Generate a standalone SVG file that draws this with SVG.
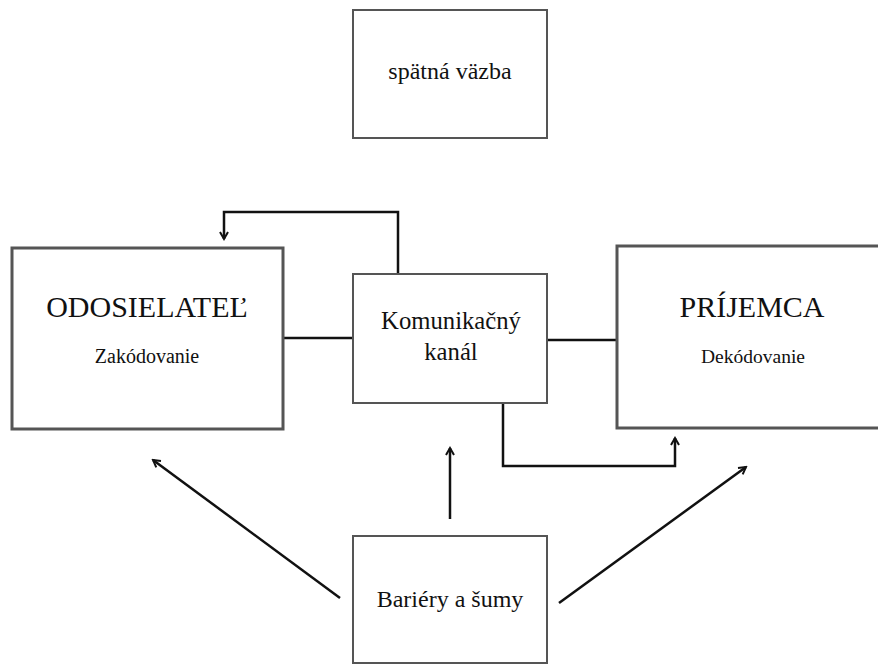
<svg xmlns="http://www.w3.org/2000/svg" width="878" height="664" viewBox="0 0 878 664">
<style>
.box{fill:#fff;stroke:#555;stroke-width:2}
.big{stroke-width:3}
.t{font-family:"Liberation Serif","Times New Roman",serif;fill:#111;text-anchor:middle}
.ln{fill:none;stroke:#111;stroke-width:2.5}
</style>
<defs>
<marker id="ah" viewBox="0 0 10 10" refX="8" refY="5" markerWidth="10" markerHeight="10" markerUnits="userSpaceOnUse" orient="auto">
<path d="M1,1 L8,5 L1,9" fill="none" stroke="#111" stroke-width="2"/>
</marker>
</defs>
<rect width="878" height="664" fill="#fff"/>
<g id="connectors">
<path class="ln" d="M283,338 H353"/>
<path class="ln" d="M547,340 H617"/>
<path class="ln" d="M398,274 V212 H224 V239" marker-end="url(#ah)"/>
<path class="ln" d="M503,403 V466 H675 V438" marker-end="url(#ah)"/>
<path class="ln" d="M450,519 V448" marker-end="url(#ah)"/>
<path class="ln" d="M340,598 L153,460" marker-end="url(#ah)"/>
<path class="ln" d="M559,603 L746,467" marker-end="url(#ah)"/>
</g>
<g id="spatna-vazba">
<rect class="box" x="353" y="10" width="194" height="128"/>
<text class="t" x="450" y="79" font-size="24">spätná väzba</text>
</g>
<g id="odosielatel">
<rect class="box big" x="12" y="248" width="271" height="181"/>
<text class="t" x="147" y="317" font-size="30">ODOSIELATEĽ</text>
<text class="t" x="147" y="363" font-size="20">Zakódovanie</text>
</g>
<g id="kanal">
<rect class="box" x="353" y="274" width="194" height="129"/>
<text class="t" x="451" y="329" font-size="24.7">Komunikačný</text>
<text class="t" x="451" y="360" font-size="24.7">kanál</text>
</g>
<g id="prijemca">
<rect class="box big" x="617" y="246" width="270" height="182"/>
<text class="t" x="752" y="317" font-size="30">PRÍJEMCA</text>
<text class="t" x="753" y="363" font-size="19.5">Dekódovanie</text>
</g>
<g id="bariery">
<rect class="box" x="353" y="536" width="194" height="127"/>
<text class="t" x="450" y="607" font-size="24">Bariéry a šumy</text>
</g>
</svg>
